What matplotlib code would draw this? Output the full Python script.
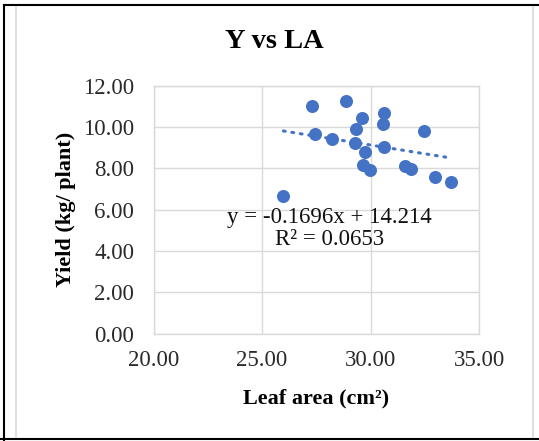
import numpy as np
import matplotlib.pyplot as plt
from matplotlib.lines import Line2D

# leaf area (cm2) vs yield (kg/plant)
leaf_area = [27.32, 28.84, 29.58, 30.61, 30.56, 29.33, 32.47, 27.43, 28.23, 29.29,
             30.61, 29.72, 29.65, 29.99, 31.60, 31.85, 32.96, 33.70, 25.98]
yield_kg = [11.03, 11.24, 10.45, 10.69, 10.15, 9.89, 9.79, 9.65, 9.43, 9.24,
            9.03, 8.77, 8.17, 7.93, 8.13, 7.98, 7.56, 7.34, 6.66]
slope = -0.1696
intercept = 14.214
r2 = 0.0653
xticks = [20, 25, 30, 35]
yticks = [0, 2, 4, 6, 8, 10, 12]

plt.rcParams['font.family'] = ['Liberation Serif', 'DejaVu Serif']
blue = "#4472C4"

fig = plt.figure(figsize=(5.39, 4.41), dpi=100)
ax = fig.add_axes([153.5 / 539, 1 - 333.5 / 441, (479.3 - 153.5) / 539, (333.5 - 85.7) / 441])

ax.scatter(leaf_area, yield_kg, s=88, color=blue, zorder=3, linewidths=0)
xs = np.array([min(leaf_area), max(leaf_area)])
ax.plot(xs, slope * xs + intercept, color=blue, linestyle=(0, (0.6, 2.2)),
        linewidth=2.2, dash_capstyle="round", zorder=2)

ax.set_xlim(20, 35)
ax.set_ylim(0, 12)
ax.set_xticks(xticks)
ax.set_yticks(yticks)
ax.set_xticklabels([f"{v:.2f}" for v in xticks])
ax.set_yticklabels([f"{v:.2f}" for v in yticks])
ax.tick_params(length=0, labelsize=16.5, colors="#2a2a2a")
ax.tick_params(axis="y", pad=14)
ax.tick_params(axis="x", pad=12)
ax.grid(True, color="#d9d9d9", linewidth=1)
ax.set_axisbelow(True)
for s in ax.spines.values():
    s.set_color("#d9d9d9")
    s.set_linewidth(1)

ax.set_xlabel("Leaf area (cm²)", fontsize=16, fontweight="bold")
ax.set_ylabel("Yield (kg/ plant)", fontsize=16, fontweight="bold")
ax.xaxis.set_label_coords(0.5, -0.222)
ax.yaxis.set_label_coords(-0.237, 0.5)

ax.text(0.539, 0.424, f"y = {slope}x + {intercept}\nR² = {r2}",
        transform=ax.transAxes, ha="center", va="center", fontsize=16.5,
        linespacing=1.05, color="#111111")

fig.text(274 / 539, 1 - 42 / 441, "Y vs LA", ha="center", va="center",
         fontsize=20.5, fontweight="bold")

# outer frame
fig.add_artist(Line2D([3.5 / 539, 3.5 / 539], [0, 1 - 5 / 441], transform=fig.transFigure, color="black", lw=1.5))
fig.add_artist(Line2D([3.5 / 539, 1], [1 - 5 / 441, 1 - 5 / 441], transform=fig.transFigure, color="black", lw=1.5))
fig.add_artist(Line2D([0, 1], [1 - 439 / 441, 1 - 439 / 441], transform=fig.transFigure, color="black", lw=1.5))
fig.add_artist(Line2D([15.5 / 539, 15.5 / 539], [1 - 437 / 441, 1 - 7 / 441], transform=fig.transFigure, color="#d9d9d9", lw=1.2))
fig.add_artist(Line2D([533 / 539, 533 / 539], [1 - 437 / 441, 1 - 7 / 441], transform=fig.transFigure, color="#d9d9d9", lw=1.2))

fig.savefig("out.png", dpi=100)
